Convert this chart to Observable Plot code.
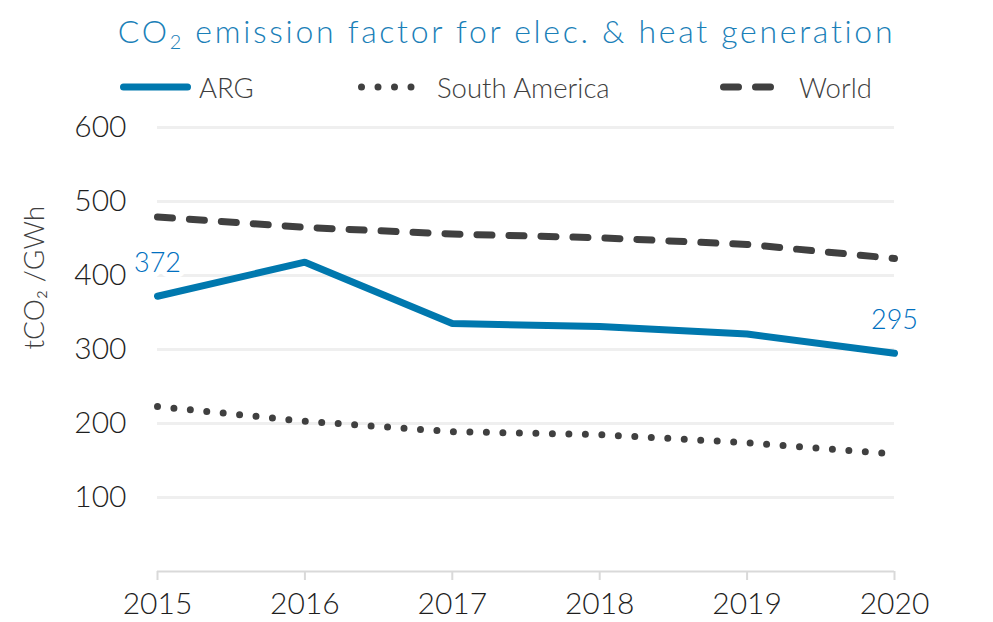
<!DOCTYPE html>
<html><head><meta charset="utf-8">
<script src="https://cdn.jsdelivr.net/npm/d3@7"></script>
<script src="https://cdn.jsdelivr.net/npm/@observablehq/plot@0.6"></script>
<style>
body{margin:0;background:#fff;font-family:Lato,"Open Sans",sans-serif;font-weight:300}
#wrap{width:993px;height:622px;overflow:hidden;position:relative;background:#fff}
#title{height:64px;box-sizing:border-box;padding-top:12px;padding-left:20px;text-align:center;font-size:32px;color:#1a80b8;line-height:38px;white-space:nowrap;letter-spacing:2.7px;font-weight:300}
#title sub{font-size:0.62em;vertical-align:-0.3em;line-height:0}
#legend{position:relative;height:46px}
.item{position:absolute;top:0;height:46px;display:flex;align-items:center;font-size:27.5px;color:#404040;white-space:nowrap;font-weight:300}
.item svg{display:block;margin-right:3px}
#chart svg{display:block;overflow:visible}
#chart svg text{font-weight:300}
#chart g[aria-label^="x-axis"] line, #chart g[aria-label="x-axis tick"] path{stroke:#d9d9d9;stroke-width:2px;stroke-opacity:1}
</style>
</head><body>
<div id="wrap">
  <div id="title">CO<sub>2</sub> emission factor for elec. &amp; heat generation</div>
  <div id="legend"></div>
  <div id="chart"></div>
</div>
<script>
const years = [2015, 2016, 2017, 2018, 2019, 2020];
const arg = [372, 418, 335, 331, 321, 295];
const southAmerica = [223, 203, 189, 185, 174, 159];
const world = [479, 465, 456, 451, 442, 423];
const yTicks = [100, 200, 300, 400, 500, 600];
const seriesNames = ["ARG", "South America", "World"];

const styles = {
  "ARG": {stroke: "#0078ae", dash: null, left: 116},
  "South America": {stroke: "#404040", dash: "0 16.5", left: 354},
  "World": {stroke: "#404040", dash: "15 17", left: 716}
};

// legend
const legend = d3.select("#legend");
seriesNames.forEach(name => {
  const s = styles[name];
  const item = legend.append("div").attr("class", "item").style("left", s.left + "px");
  const svg = item.append("svg").attr("width", 80).attr("height", 14);
  svg.append("line").attr("x1", 7.5).attr("x2", 71.5).attr("y1", 7).attr("y2", 7)
    .attr("stroke", s.stroke).attr("stroke-width", 7).attr("stroke-linecap", "round")
    .attr("stroke-dasharray", s.dash);
  item.append("span").text(name);
});

const rows = (vals, name) => years.map((y, i) => ({year: y, value: vals[i], series: name}));
const dArg = rows(arg, "ARG");
const dSA = rows(southAmerica, "South America");
const dW = rows(world, "World");
const endLabels = [dArg[0], dArg[dArg.length - 1]];

const chart = Plot.plot({
  width: 993,
  height: 512,
  marginTop: 17,
  marginBottom: 51,
  marginLeft: 157,
  marginRight: 99,
  style: {fontFamily: "Lato, 'Open Sans', sans-serif", fontSize: "30px", color: "#1e1e1e", background: "transparent"},
  x: {domain: [2015, 2020], ticks: years, tickFormat: d => String(d), tickSize: 9, tickPadding: 12, label: null},
  y: {domain: [0, 600], ticks: yTicks, tickSize: 0, tickPadding: 31, label: null},
  marks: [
    Plot.ruleY(yTicks, {stroke: "#efefef", strokeWidth: 3}),
    Plot.ruleY([0], {stroke: "#d9d9d9", strokeWidth: 2}),
    Plot.line(dSA, {x: "year", y: "value", stroke: "#404040", strokeWidth: 7, strokeDasharray: "0 16.5", strokeLinecap: "round"}),
    Plot.line(dW, {x: "year", y: "value", stroke: "#404040", strokeWidth: 7, strokeDasharray: "15 17", strokeLinecap: "round"}),
    Plot.line(dArg, {x: "year", y: "value", stroke: "#0078ae", strokeWidth: 7, strokeLinejoin: "miter"}),
    Plot.text(endLabels, {x: "year", y: "value", text: d => String(d.value), dy: -33, fill: "#0070c0", fontSize: 27, stroke: "white", strokeWidth: 10}),
    Plot.text(["tCO₂ /GWh"], {frameAnchor: "left", dx: -122, rotate: -90, fill: "#404040", fontSize: 28})
  ]
});
document.getElementById("chart").appendChild(chart);
</script>
</body></html>
